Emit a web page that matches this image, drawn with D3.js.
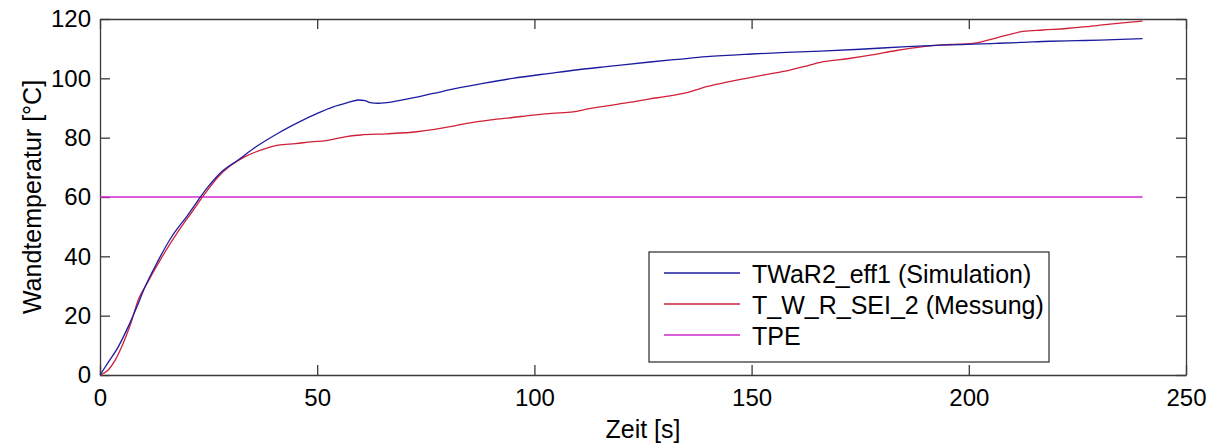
<!DOCTYPE html>
<html>
<head>
<meta charset="utf-8">
<script src="https://cdn.jsdelivr.net/npm/d3@7"></script>
<style>
  html, body { margin: 0; padding: 0; background: #fff; }
  svg { display: block; font-family: "Liberation Sans", Arial, sans-serif; }
</style>
</head>
<body>
<svg id="chart" width="1209" height="444"></svg>
<script>
// Simulated wall temperature TWaR2_eff1
const simTime = [0, 2, 4.2, 6.5, 8.5, 10.4, 13, 16.5, 20, 24.9, 28, 31.8, 36, 41, 46, 50, 53.7, 57, 59.5, 61, 62.2, 64, 66, 70, 76.7, 82, 88.2, 95, 103.6, 110, 117, 126.6, 133, 139.6, 150, 162.7, 175, 185.7, 195.7, 201, 206.4, 212, 218.7, 225, 230.2, 235, 240];
const simTemp = [0, 4.5, 9.5, 16.3, 23, 29.8, 37.5, 46.6, 53.5, 63.5, 68.5, 72.5, 77, 81.5, 85.4, 88.2, 90.4, 91.8, 92.7, 92.5, 91.8, 91.6, 91.8, 92.8, 94.9, 96.6, 98.3, 100, 101.7, 102.9, 104, 105.5, 106.4, 107.3, 108.2, 109.0, 109.8, 110.7, 111.3, 111.5, 111.8, 112.1, 112.5, 112.7, 112.9, 113.1, 113.4];

// Measured wall temperature T_W_R_SEI_2
const measTime = [0, 1.9, 3.5, 5, 7, 8.8, 11, 13, 15.7, 18, 21, 24.2, 27, 30, 33.4, 37, 41, 45, 48.7, 52, 56.4, 60, 66, 72.9, 77, 80.6, 84.4, 90, 95, 99.7, 104, 108.9, 112, 115.1, 119, 122.7, 126.6, 130, 134.3, 137, 139.6, 144, 148.8, 153, 158.8, 163, 166.5, 172, 177.7, 183, 189.5, 195.7, 201, 206, 212.5, 217, 222.5, 227, 232.5, 236, 240];
const measTemp = [0, 1.7, 5, 9.5, 17, 25.3, 31.3, 36.6, 43.2, 48.4, 54.6, 61.2, 66.5, 70.5, 73.6, 75.8, 77.5, 78, 78.6, 79, 80.3, 80.9, 81.3, 82, 82.8, 83.7, 84.8, 86, 86.8, 87.6, 88.2, 88.7, 89.6, 90.4, 91.2, 92.1, 93.1, 93.8, 94.9, 96, 97.2, 98.6, 100, 101.2, 102.8, 104.3, 105.6, 106.6, 107.9, 109.3, 110.7, 111.4, 111.8, 113.5, 115.8, 116.3, 116.8, 117.4, 118.3, 118.8, 119.3];

// Constant TPE level
const tpeTime = [0, 240];
const tpeTemp = [60, 60];

const seriesNames = ["TWaR2_eff1 (Simulation)", "T_W_R_SEI_2 (Messung)", "TPE"];
const xTicks = [0, 50, 100, 150, 200, 250];
const yTicks = [0, 20, 40, 60, 80, 100, 120];
const xTitle = "Zeit [s]";
const yTitle = "Wandtemperatur [°C]";

const svg = d3.select("#chart");
const W = 1209, H = 444;
const plot = { left: 100, right: 1186, top: 19, bottom: 375 };

svg.append("rect").attr("width", W).attr("height", H).attr("fill", "#fff");

const x = d3.scaleLinear().domain([0, 250]).range([plot.left, plot.right]);
const y = d3.scaleLinear().domain([0, 120]).range([plot.bottom, plot.top]);

const axisColor = "#3a3a3a";
const tickFont = 24;
const textFont = 25;
const tickLen = 10;

// Axis box with inward ticks on all four sides
const gx = svg.append("g").attr("transform", `translate(0,${plot.bottom})`)
  .call(d3.axisBottom(x).tickValues(xTicks).tickSizeInner(-tickLen).tickSizeOuter(0).tickPadding(14));
const gxTop = svg.append("g").attr("transform", `translate(0,${plot.top})`)
  .call(d3.axisTop(x).tickValues(xTicks).tickSizeInner(-tickLen).tickSizeOuter(0).tickFormat(""));
const gy = svg.append("g").attr("transform", `translate(${plot.left},0)`)
  .call(d3.axisLeft(y).tickValues(yTicks).tickSizeInner(-tickLen).tickSizeOuter(0).tickPadding(9));
const gyRight = svg.append("g").attr("transform", `translate(${plot.right},0)`)
  .call(d3.axisRight(y).tickValues(yTicks).tickSizeInner(-tickLen).tickSizeOuter(0).tickFormat(""));

[gx, gxTop, gy, gyRight].forEach(g => {
  g.select(".domain").attr("stroke", axisColor).attr("stroke-width", 1.3);
  g.selectAll(".tick line").attr("stroke", axisColor).attr("stroke-width", 1.3);
  g.selectAll(".tick text").attr("fill", "#000").attr("font-size", tickFont)
    .attr("font-family", "'Liberation Sans', Arial, sans-serif");
});

// Curves
const line = d3.line().x(d => x(d[0])).y(d => y(d[1])).curve(d3.curveMonotoneX);
const series = [
  { name: seriesNames[0], t: simTime, v: simTemp, color: "#1c1ca0" },
  { name: seriesNames[1], t: measTime, v: measTemp, color: "#d0203a" },
  { name: seriesNames[2], t: tpeTime, v: tpeTemp, color: "#d028d0" }
];

const plotArea = svg.append("g");
series.slice().reverse().forEach(s => {
  plotArea.append("path")
    .datum(s.t.map((t, i) => [t, s.v[i]]))
    .attr("fill", "none")
    .attr("stroke", s.color)
    .attr("stroke-width", 1.3)
    .attr("d", line);
});

// Axis titles
svg.append("text")
  .attr("x", (plot.left + plot.right) / 2).attr("y", 438)
  .attr("text-anchor", "middle").attr("font-size", textFont).attr("fill", "#000")
  .text(xTitle);
svg.append("text")
  .attr("transform", `translate(41,${(plot.top + plot.bottom) / 2}) rotate(-90)`)
  .attr("text-anchor", "middle").attr("font-size", textFont).attr("fill", "#000")
  .text(yTitle);

// Legend
const legend = svg.append("g");
const lg = { x: 649, y: 252, w: 400, h: 110 };
legend.append("rect")
  .attr("x", lg.x).attr("y", lg.y).attr("width", lg.w).attr("height", lg.h)
  .attr("fill", "#fff").attr("stroke", axisColor).attr("stroke-width", 1.3);
series.forEach((s, i) => {
  const base = 282.5 + i * 31;
  legend.append("line")
    .attr("x1", 664).attr("x2", 740)
    .attr("y1", base - 9.5).attr("y2", base - 9.5)
    .attr("stroke", s.color).attr("stroke-width", 1.3);
  legend.append("text")
    .attr("x", 752).attr("y", base)
    .attr("font-size", textFont).attr("fill", "#000")
    .text(s.name);
});
</script>
</body>
</html>
